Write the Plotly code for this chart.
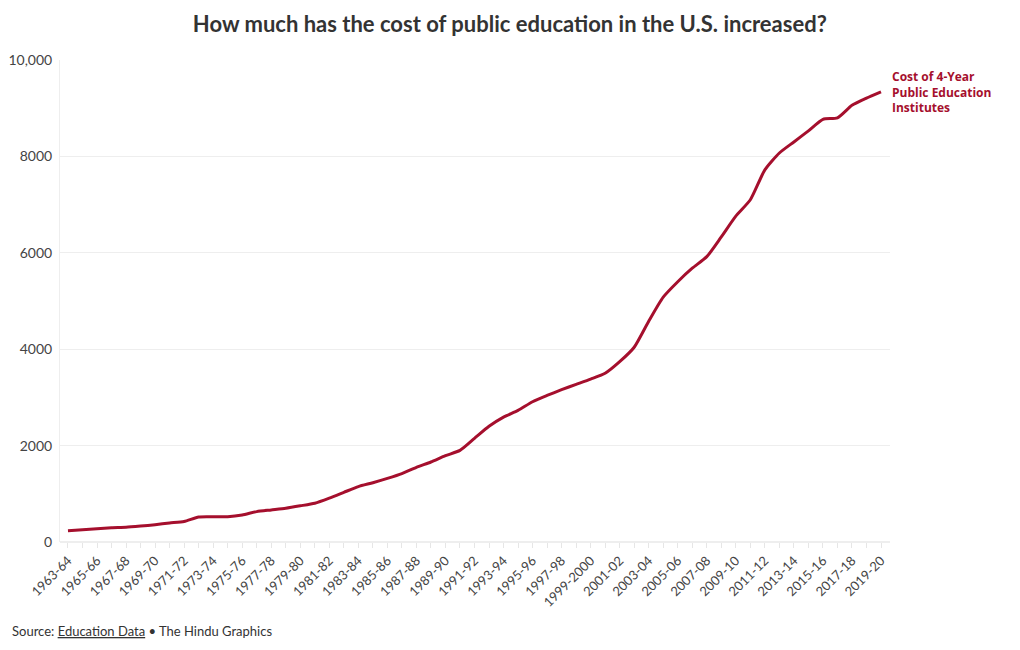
import plotly.graph_objects as go

years = ["1963-64","1964-65","1965-66","1966-67","1967-68","1968-69","1969-70","1970-71",
         "1971-72","1972-73","1973-74","1974-75","1975-76","1976-77","1977-78","1978-79",
         "1979-80","1980-81","1981-82","1982-83","1983-84","1984-85","1985-86","1986-87",
         "1987-88","1988-89","1989-90","1990-91","1991-92","1992-93","1993-94","1994-95",
         "1995-96","1996-97","1997-98","1998-99","1999-2000","2000-01","2001-02","2002-03",
         "2003-04","2004-05","2005-06","2006-07","2007-08","2008-09","2009-10","2010-11",
         "2011-12","2012-13","2013-14","2014-15","2015-16","2016-17","2017-18","2018-19","2019-20"]
cost = [235, 255, 275, 295, 305, 330, 360, 395,
        425, 520, 525, 525, 560, 630, 665, 700,
        750, 805, 910, 1030, 1150, 1230, 1320, 1420,
        1550, 1660, 1790, 1900, 2150, 2400, 2590, 2730,
        2910, 3040, 3160, 3270, 3380, 3500, 3740, 4040,
        4580, 5080, 5400, 5680, 5920, 6330, 6760, 7100,
        7720, 8070, 8300, 8530, 8770, 8800, 9060, 9210, 9340]
series_name = "Cost of 4-Year Public Education Institutes"
label_lines = ["Cost of 4-Year", "Public Education", "Institutes"]
y_ticks = [0, 2000, 4000, 6000, 8000, 10000]
y_ticktext = ["0", "2000", "4000", "6000", "8000", "10,000"]

FONT = "Source Sans Pro, Lato, Open Sans, sans-serif"
RED = "#a50f2d"
idx = list(range(len(years)))

fig = go.Figure()
fig.add_trace(go.Scatter(
    x=idx, y=cost, mode="lines", name=series_name,
    line=dict(color=RED, width=3, shape="spline", smoothing=0.6),
    hovertemplate="%{text}: %{y}<extra></extra>", text=years,
))

fig.add_annotation(x=idx[-1], y=cost[-1], xref="x", yref="y",
                   text="<br>".join("<b>%s</b>" % l for l in label_lines),
                   showarrow=False, align="left",
                   xanchor="left", yanchor="middle", xshift=9,
                   font=dict(family="Open Sans, sans-serif", size=12, color=RED))

fig.add_annotation(x=0, y=-0.1846, xref="paper", yref="paper", xanchor="left", yanchor="middle",
                   xshift=-50, showarrow=False, align="left",
                   text="Source: <span style='text-decoration:underline'>Education Data</span> \u2022 The Hindu Graphics",
                   font=dict(family=FONT, size=13, color="#333333"))

fig.update_layout(
    width=1020, height=650,
    margin=dict(l=52, r=138, t=52, b=116),
    paper_bgcolor="white", plot_bgcolor="white",
    showlegend=False,
    font=dict(family=FONT, color="#444444"),
    title=dict(text="<b>How much has the cost of public education in the U.S. increased?</b>",
               x=0.492, xanchor="center", y=0.975, yanchor="middle",
               font=dict(family=FONT, size=22, color="#333333")),
    xaxis=dict(range=[-0.55, 56.62], tickvals=idx[::2], ticktext=years[::2],
               tickangle=-45, tickfont=dict(size=13, color="#444444"), automargin=False,
               ticks="outside", ticklen=5, tickcolor="#e6e6e6",
               minor=dict(dtick=1, tick0=0, ticks="outside", ticklen=5, tickcolor="#e6e6e6"),
               showgrid=False, showline=False, zeroline=False, fixedrange=True),
    yaxis=dict(range=[0, 10000], tickvals=y_ticks, ticktext=y_ticktext, automargin=False,
               tickfont=dict(size=14, color="#444444"), ticklabelstandoff=4,
               showgrid=True, gridcolor="#eeeeee", gridwidth=1,
               showline=True, linecolor="#eeeeee", linewidth=1,
               zeroline=True, zerolinecolor="#eeeeee", ticks="", fixedrange=True),
)

fig.write_html("out.html")
